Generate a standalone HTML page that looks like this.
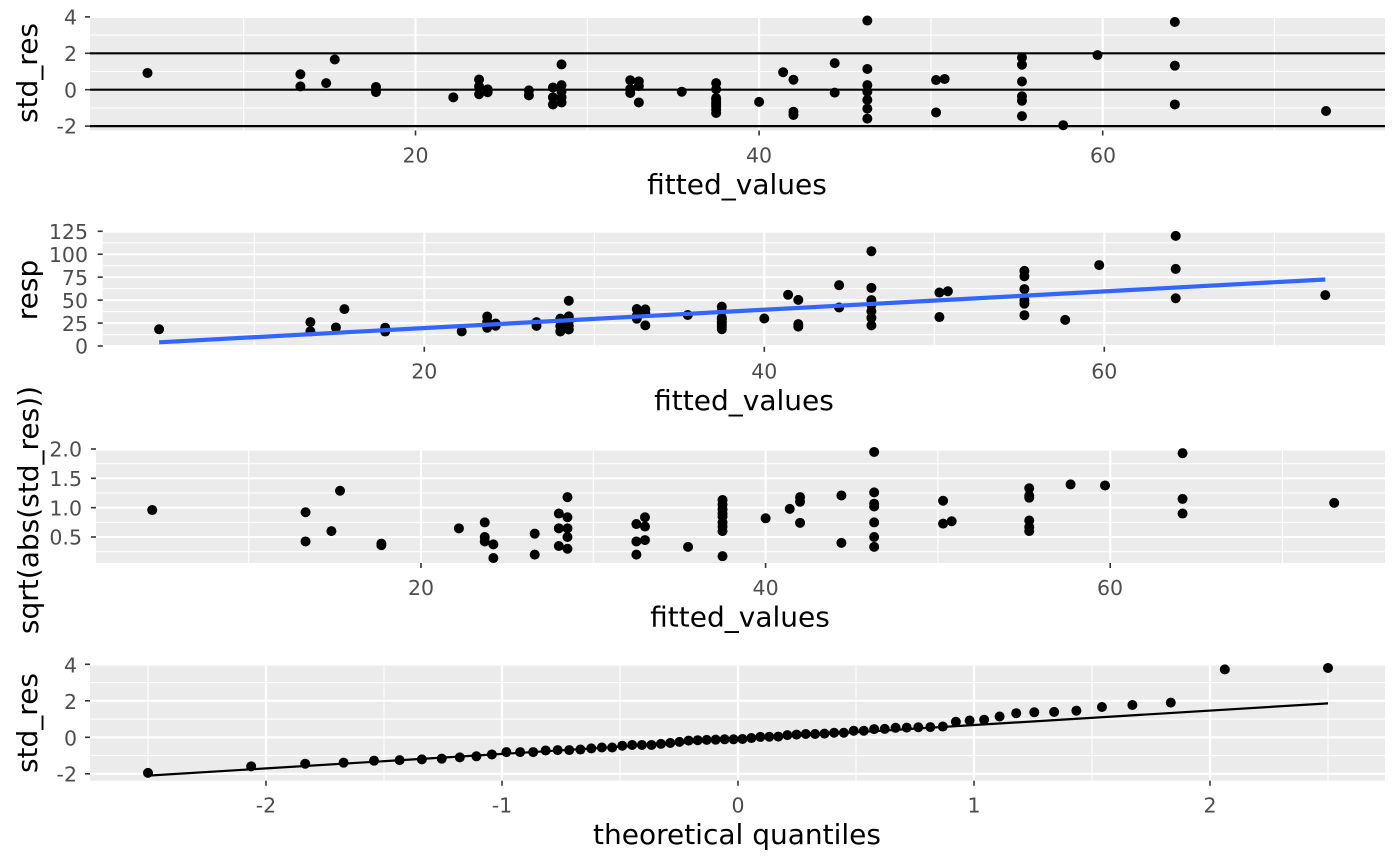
<!DOCTYPE html>
<html><head><meta charset="utf-8"><style>
html,body{margin:0;padding:0;background:#fff;}
svg{display:block;font-family:"DejaVu Sans","Liberation Sans",sans-serif;}
.tk{font-size:20.5px;fill:#4D4D4D;}
.tt{font-size:28px;fill:#000;}
</style></head><body>
<svg id="s" width="1400" height="866" viewBox="0 0 1400 866" xmlns="http://www.w3.org/2000/svg">
<g id="bg"></g>
<g id="pts"></g>
<g class="tk" text-anchor="end">
<text x="77" y="24.5">4</text><text x="77" y="61">2</text><text x="77" y="97.3">0</text><text x="77" y="133.6">-2</text>
<text x="88" y="239">125</text><text x="88" y="262">100</text><text x="88" y="285">75</text><text x="88" y="308">50</text><text x="88" y="330.8">25</text><text x="88" y="353.6">0</text>
<text x="82" y="456.6">2.0</text><text x="82" y="486">1.5</text><text x="82" y="515.3">1.0</text><text x="82" y="544.6">0.5</text>
<text x="77" y="672.3">4</text><text x="77" y="709">2</text><text x="77" y="745.3">0</text><text x="77" y="781.6">-2</text>
</g>
<g class="tk" text-anchor="middle">
<text x="415.5" y="162.5">20</text><text x="759" y="162.5">40</text><text x="1103" y="162.5">60</text>
<text x="424.3" y="378.5">20</text><text x="764.3" y="378.5">40</text><text x="1104.3" y="378.5">60</text>
<text x="421" y="595">20</text><text x="765.6" y="595">40</text><text x="1110" y="595">60</text>
<text x="266" y="812.5">-2</text><text x="502" y="812.5">-1</text><text x="738" y="812.5">0</text><text x="974" y="812.5">1</text><text x="1210" y="812.5">2</text>
</g>
<g class="tt" text-anchor="middle">
<text x="737" y="194">fitted_values</text>
<text x="744" y="410">fitted_values</text>
<text x="740" y="626.5">fitted_values</text>
<text x="737" y="844">theoretical quantiles</text>
<text transform="translate(37,73) rotate(-90)">std_res</text>
<text transform="translate(37,290) rotate(-90)">resp</text>
<text transform="translate(38,510) rotate(-90)">sqrt(abs(std_res))</text>
<text transform="translate(37,723) rotate(-90)">std_res</text>
</g>
</svg>
<script>
(function(){
var NS="http://www.w3.org/2000/svg";
var bg=document.getElementById('bg'),pg=document.getElementById('pts');
function el(p,t,a){var e=document.createElementNS(NS,t);for(var k in a)e.setAttribute(k,a[k]);p.appendChild(e);return e;}
function line(p,x1,y1,x2,y2,c,w){el(p,'line',{x1:x1,y1:y1,x2:x2,y2:y2,stroke:c,'stroke-width':w});}
function dot(x,y){el(pg,'circle',{cx:x,cy:y,r:5,fill:'#000'});}
function panel(L,T,R,B,fx,fy,xmaj,xmin,ymaj,ymin){
 el(bg,'rect',{x:L,y:T,width:R-L,height:B-T,fill:'#EBEBEB'});
 ymin.forEach(function(v){var y=fy(v);if(y>T&&y<B)line(bg,L,y,R,y,'#fff',1.1);});
 xmin.forEach(function(v){var x=fx(v);if(x>L&&x<R)line(bg,x,T,x,B,'#fff',1.1);});
 ymaj.forEach(function(v){var y=fy(v);line(bg,L,y,R,y,'#fff',2.1);line(bg,L-5,y,L,y,'#333',1.6);});
 xmaj.forEach(function(v){var x=fx(v);line(bg,x,T,x,B,'#fff',2.1);line(bg,x,B,x,B+5,'#333',1.6);});
}
var data=[[4.4,[0.92]],[13.3,[0.85,0.18]],[14.8,[0.36]],[15.3,[1.66]],[17.7,[0.15,-0.13]],[22.2,[-0.42]],
[23.7,[0.56,-0.25,0.18]],[24.2,[-0.14,0.02]],[26.6,[-0.31,-0.04]],[28,[-0.81,-0.42,0.12]],[28.5,[1.39,-0.7,-0.42,0.25,-0.09]],
[32.5,[0.52,-0.18,0.04]],[33,[-0.7,0.46,0.2]],[35.5,[-0.11]],[37.5,[-1.28,-1.1,-0.94,-0.81,-0.72,-0.56,-0.46,0.36,0.03]],
[40,[-0.67]],[41.4,[0.96]],[42,[-1.39,-1.21,0.55]],[44.4,[1.46,-0.16]],[46.3,[3.8,1.14,0.25,-0.11,-0.56,-1.04,-1.59]],
[50.3,[-1.25,0.53]],[50.8,[0.59]],[55.3,[1.77,1.37,0.45,-0.36,-0.61,-1.45]],[57.7,[-1.95]],[59.7,[1.9]],[64.2,[3.72,1.32,-0.81]],[73,[-1.17]]];
var L1=90,R1=1385,T1=16.5,B1=130.5;
var fx1=function(v){return 415.5+(v-20)*17.18;},fy1=function(v){return 89.7-v*18.2;};
panel(L1,T1,R1,B1,fx1,fy1,[20,40,60],[10,30,50,70],[4,2,0,-2],[3,1,-1]);
[2,0,-2].forEach(function(v){line(bg,L1,fy1(v),R1,fy1(v),'#000',2.2);});
var L2=102.7,T2=232.7,B2=346.8;
var fx2=function(v){return 424.3+(v-20)*17.0;},fy2=function(v){return 346-v*0.9176;};
panel(L2,T2,R1,B2,fx2,fy2,[20,40,60],[10,30,50,70],[0,25,50,75,100,125],[12.5,37.5,62.5,87.5,112.5]);
var L3=96,T3=450.7,B3=563;
var fx3=function(v){return 421+(v-20)*17.23;},fy3=function(v){return 537-(v-0.5)*58.67;};
panel(L3,T3,R1,B3,fx3,fy3,[20,40,60],[10,30,50,70],[0.5,1,1.5,2],[0.25,0.75,1.25,1.75]);
var L4=90,T4=665.5,B4=780.7;
var fx4=function(v){return 738+v*236;},fy4=function(v){return 737.3-v*18.25;};
panel(L4,T4,R1,B4,fx4,fy4,[-2,-1,0,1,2],[-2.5,-1.5,-0.5,0.5,1.5,2.5],[4,2,0,-2],[3,1,-1]);
var all=[];
data.forEach(function(d){d[1].forEach(function(r){
 all.push(r);
 dot(fx1(d[0]),fy1(r));
 dot(fx2(d[0]),fy2(d[0]+15*r));
 dot(fx3(d[0]),fy3(Math.sqrt(Math.abs(r))));
});});
el(pg,'line',{x1:fx2(4.4),y1:fy2(4.0),x2:fx2(73),y2:fy2(72.5),stroke:'#3366FF','stroke-width':4.2});
function qnorm(p){var a=[-39.6968302866538,220.946098424521,-275.928510446969,138.357751867269,-30.6647980661472,2.50662827745924],
b=[-54.4760987982241,161.585836858041,-155.698979859887,66.8013118877197,-13.2806815528857],
c=[-0.00778489400243029,-0.322396458041136,-2.40075827716184,-2.54973253934373,4.37466414146497,2.93816398269878],
d=[0.00778469570904146,0.32246712907004,2.445134137143,3.75440866190742];var q,r;
if(p<0.02425){q=Math.sqrt(-2*Math.log(p));return (((((c[0]*q+c[1])*q+c[2])*q+c[3])*q+c[4])*q+c[5])/((((d[0]*q+d[1])*q+d[2])*q+d[3])*q+1);}
if(p>1-0.02425){q=Math.sqrt(-2*Math.log(1-p));return -(((((c[0]*q+c[1])*q+c[2])*q+c[3])*q+c[4])*q+c[5])/((((d[0]*q+d[1])*q+d[2])*q+d[3])*q+1);}
q=p-0.5;r=q*q;return (((((a[0]*r+a[1])*r+a[2])*r+a[3])*r+a[4])*r+a[5])*q/(((((b[0]*r+b[1])*r+b[2])*r+b[3])*r+b[4])*r+1);}
all.sort(function(a,b){return a-b;});
var n=all.length,s=2.5/qnorm(1-0.5/n);
line(pg,fx4(-2.5),fy4(-2.1),fx4(2.5),fy4(1.86),'#000',2.2);
all.forEach(function(r,i){dot(fx4(qnorm((i+0.5)/n)*s),fy4(r));});
})();
</script>
</body></html>
